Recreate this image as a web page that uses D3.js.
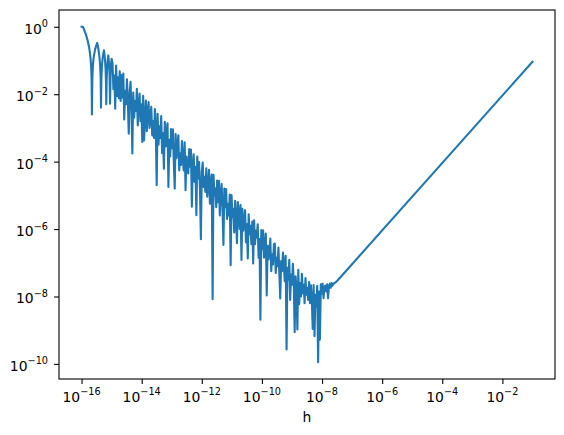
<!DOCTYPE html>
<html>
<head>
<meta charset="utf-8">
<script src="https://d3js.org/d3.v7.min.js"></script>
<style>
body { margin: 0; background: #fff; }
text { font-family: "DejaVu Sans", sans-serif; fill: #000; }
</style>
</head>
<body>
<div id="graphic"></div>
<script>
// values are kept as powers of ten (log10 of h and of the error)

// first arches, where h is smaller than a few machine epsilons
var archH = [-16.0,-15.97,-15.955,-15.93,-15.9,-15.87,-15.85,-15.8,-15.75,-15.72,-15.7,-15.68,-15.665,-15.655,-15.64,-15.62,-15.6,-15.55,-15.5,-15.48,
  -15.45,-15.42,-15.4,-15.38,-15.365,-15.353,-15.34,-15.32,-15.3,-15.27,-15.255,-15.24,-15.22,-15.2,-15.185,-15.177,-15.165,-15.15,-15.13,-15.11,
  -15.09,-15.07,-15.052,-15.035,-15.015,-15.0];
var archErr = [0,0,0,-0.05,-0.12,-0.19,-0.24,-0.4,-0.6,-0.78,-0.95,-1.2,-1.58,-2.6,-1.51,-1.13,-0.93,-0.67,-0.53,-0.48,
  -0.6,-0.78,-0.94,-1.19,-1.5,-2.4,-1.54,-1.14,-0.94,-0.76,-0.7,-0.8,-0.98,-1.26,-1.7,-2.3,-1.58,-1.23,-0.99,-0.85,
  -1.03,-1.36,-2.28,-1.43,-1.09,-0.95];

// round-off band
var noiseH = [
  -14.97,-14.94,-14.91,-14.88,-14.85,-14.82,-14.79,-14.76,-14.73,-14.70,
  -14.67,-14.64,-14.61,-14.58,-14.55,-14.52,-14.49,-14.46,-14.43,-14.40,
  -14.37,-14.34,-14.31,-14.28,-14.25,-14.22,-14.19,-14.16,-14.13,-14.10,
  -14.07,-14.04,-14.01,-13.98,-13.95,-13.92,-13.89,-13.86,-13.83,-13.80,
  -13.77,-13.74,-13.71,-13.68,-13.65,-13.62,-13.59,-13.56,-13.53,-13.50,
  -13.47,-13.44,-13.41,-13.38,-13.35,-13.32,-13.29,-13.26,-13.23,-13.20,
  -13.17,-13.14,-13.11,-13.08,-13.05,-13.02,-12.99,-12.96,-12.93,-12.90,
  -12.87,-12.84,-12.81,-12.78,-12.75,-12.72,-12.69,-12.66,-12.63,-12.60,
  -12.57,-12.54,-12.51,-12.48,-12.45,-12.42,-12.39,-12.36,-12.33,-12.30,
  -12.27,-12.24,-12.21,-12.18,-12.15,-12.12,-12.09,-12.06,-12.03,-12.00,
  -11.97,-11.94,-11.91,-11.88,-11.85,-11.82,-11.79,-11.76,-11.73,-11.70,
  -11.67,-11.64,-11.61,-11.58,-11.55,-11.52,-11.49,-11.46,-11.43,-11.40,
  -11.37,-11.34,-11.31,-11.28,-11.25,-11.22,-11.19,-11.16,-11.13,-11.10,
  -11.07,-11.04,-11.01,-10.98,-10.95,-10.92,-10.89,-10.86,-10.83,-10.80,
  -10.77,-10.74,-10.71,-10.68,-10.65,-10.62,-10.59,-10.56,-10.53,-10.50,
  -10.47,-10.44,-10.41,-10.38,-10.35,-10.32,-10.29,-10.26,-10.23,-10.20,
  -10.17,-10.14,-10.11,-10.08,-10.05,-10.02,-9.99,-9.96,-9.93,-9.90,
  -9.87,-9.84,-9.81,-9.78,-9.75,-9.72,-9.69,-9.66,-9.63,-9.60,
  -9.57,-9.54,-9.51,-9.48,-9.45,-9.42,-9.39,-9.36,-9.33,-9.30,
  -9.27,-9.24,-9.21,-9.18,-9.15,-9.12,-9.09,-9.06,-9.03,-9.00,
  -8.97,-8.94,-8.91,-8.88,-8.85,-8.82,-8.79,-8.76,-8.73,-8.70,
  -8.67,-8.64,-8.61,-8.58,-8.55,-8.52,-8.49,-8.46,-8.43,-8.40,
  -8.37,-8.34,-8.31,-8.28,-8.25,-8.22,-8.19,-8.16,-8.13,-8.10,
  -8.07,-8.04,-8.01,-7.98,-7.95,-7.92];
var noiseErr = [
  -1.08,-1.85,-1.45,-2.43,-1.15,-2.05,-1.5,-2.12,-1.32,-2.2,
  -1.43,-2.1,-1.39,-2.75,-1.9,-2.3,-1.56,-2.2,-3.17,-1.95,
  -1.63,-2.45,-3.76,-1.95,-2.7,-2.2,-2.5,-1.84,-2.93,-2.35,
  -1.98,-2.8,-2.3,-3.42,-2.05,-3.37,-2.7,-2.19,-3.1,-2.55,
  -2.23,-3.0,-2.7,-2.37,-3.22,-2.8,-3.3,-2.44,-3.05,-4.7,
  -2.58,-3.5,-2.95,-3.3,-2.65,-3.75,-3.15,-4.21,-2.82,-3.55,
  -3.15,-2.86,-4.75,-3.35,-3.85,-3.03,-3.6,-3.04,-4.05,-4.8,
  -3.18,-3.9,-3.55,-3.22,-4.26,-3.75,-4.1,-3.39,-3.95,-4.26,
  -3.43,-4.85,-3.85,-4.25,-4.35,-3.63,-4.15,-3.64,-5.34,-4.1,
  -3.78,-4.6,-4.15,-5.59,-3.85,-4.5,-4.01,-4.85,-6.3,-4.3,
  -4.03,-4.75,-4.45,-4.9,-4.20,-5.04,-4.7,-4.24,-5.25,-4.65,
  -4.38,-8.08,-4.39,-5.0,-4.8,-5.35,-4.56,-5.2,-4.57,-5.6,
  -4.95,-4.66,-5.4,-6.47,-4.80,-5.35,-4.81,-5.7,-5.25,-5.6,
  -4.98,-7.07,-4.99,-5.65,-5.4,-6.1,-5.16,-5.65,-6.42,-5.20,
  -5.55,-6.0,-5.29,-6.92,-5.40,-6.05,-5.8,-5.44,-6.4,-5.85,
  -6.87,-5.56,-6.15,-5.9,-6.45,-5.78,-7.02,-5.74,-6.45,-6.05,
  -6.25,-5.86,-6.85,-6.3,-8.69,-6.03,-6.6,-6.04,-6.85,-6.45,
  -6.13,-7.97,-6.5,-6.9,-6.6,-6.28,-7.25,-6.75,-7.05,-6.45,
  -6.43,-7.3,-6.85,-7.1,-6.55,-7.3,-8.06,-6.95,-7.25,-6.70,
  -7.05,-7.55,-6.79,-9.57,-7.15,-7.5,-6.91,-8.1,-7.35,-7.65,
  -7.03,-7.6,-9.06,-7.4,-7.8,-8.98,-7.21,-8.23,-7.6,-8.0,
  -7.33,-7.9,-7.65,-8.2,-7.45,-7.95,-7.75,-8.1,-7.57,-8.2,
  -7.67,-8.1,-8.96,-7.66,-9.18,-7.95,-8.3,-7.68,-9.95,-7.85,
  -9.28,-7.64,-7.92,-7.62,-8.05,-7.72];

// truncation part, straight on log-log
var tailH = [-7.89,-7.86,-7.83,-7.80,-7.77,-7.74,-7.71,-7.68,-7.65,-7.62,-7.58,-7.52,-7.45,-7.38,-1.0];
var tailErr = [-7.68,-7.85,-7.64,-8.05,-7.7,-7.62,-7.74,-7.6,-7.68,-7.62,-7.6,-7.56,-7.49,-7.42,-1.04];

var xTicks = [-16, -14, -12, -10, -8, -6, -4, -2];
var yTicks = [0, -2, -4, -6, -8, -10];

// set the dimensions and margins of the graph
var margin = {top: 10, right: 9, bottom: 56, left: 59},
    width = 564 - margin.left - margin.right,
    height = 435 - margin.top - margin.bottom;

var data = d3.zip(archH, archErr)
  .concat(d3.zip(noiseH, noiseErr), d3.zip(tailH, tailErr))
  .map(function(d) { return {h: Math.pow(10, d[0]), err: Math.pow(10, d[1])}; });

// matplotlib style 5% margins, in log space
function padded(ext) {
  var p = (ext[1] - ext[0]) * 0.05;
  return [Math.pow(10, ext[0] - p), Math.pow(10, ext[1] + p)];
}
var hExt = d3.extent(data, function(d) { return Math.log10(d.h); });
var eExt = d3.extent(data, function(d) { return Math.log10(d.err); });

var x = d3.scaleLog().domain(padded(hExt)).range([0, width]);
var y = d3.scaleLog().domain(padded(eExt)).range([height, 0]);

var svg = d3.select("#graphic").append("svg")
  .attr("width", 564)
  .attr("height", 435)
  .append("g")
  .attr("transform", "translate(" + margin.left + "," + margin.top + ")");

// the curve
var line = d3.line()
  .x(function(d) { return x(d.h); })
  .y(function(d) { return y(d.err); });

svg.append("path")
  .datum(data)
  .attr("d", line)
  .attr("fill", "none")
  .attr("stroke", "#1f77b4")
  .attr("stroke-width", 2.1)
  .attr("stroke-linejoin", "round")
  .attr("stroke-linecap", "square");

// x axis
svg.append("g")
  .attr("transform", "translate(0," + height + ")")
  .call(d3.axisBottom(x)
    .tickValues(xTicks.map(function(p) { return Math.pow(10, p); }))
    .tickSize(4.9)
    .tickFormat(""));

// y axis
svg.append("g")
  .call(d3.axisLeft(y)
    .tickValues(yTicks.map(function(p) { return Math.pow(10, p); }))
    .tickSize(4.9)
    .tickFormat(""));

svg.selectAll(".domain").remove();
svg.selectAll(".tick line").attr("stroke", "#000").attr("stroke-width", 1.1);

// power of ten labels with superscripts
function powLabel(sel, p) {
  sel.append("tspan").text("10");
  sel.append("tspan")
    .attr("dy", -6.5)
    .attr("font-size", 9.7)
    .text(p === 0 ? "0" : "\u2212" + Math.abs(p));
}

xTicks.forEach(function(p) {
  var t = svg.append("text")
    .attr("x", x(Math.pow(10, p)))
    .attr("y", height + 22.5)
    .attr("text-anchor", "middle")
    .attr("font-size", 13.9);
  powLabel(t, p);
});

yTicks.forEach(function(p) {
  var t = svg.append("text")
    .attr("x", -11)
    .attr("y", y(Math.pow(10, p)) + 7)
    .attr("text-anchor", "end")
    .attr("font-size", 13.9);
  powLabel(t, p);
});

svg.append("text")
  .attr("x", width / 2)
  .attr("y", height + 42.5)
  .attr("text-anchor", "middle")
  .attr("font-size", 13.9)
  .text("h");

// frame
svg.append("rect")
  .attr("width", width)
  .attr("height", height)
  .attr("fill", "none")
  .attr("stroke", "#000")
  .attr("stroke-width", 1.1);
</script>
</body>
</html>
